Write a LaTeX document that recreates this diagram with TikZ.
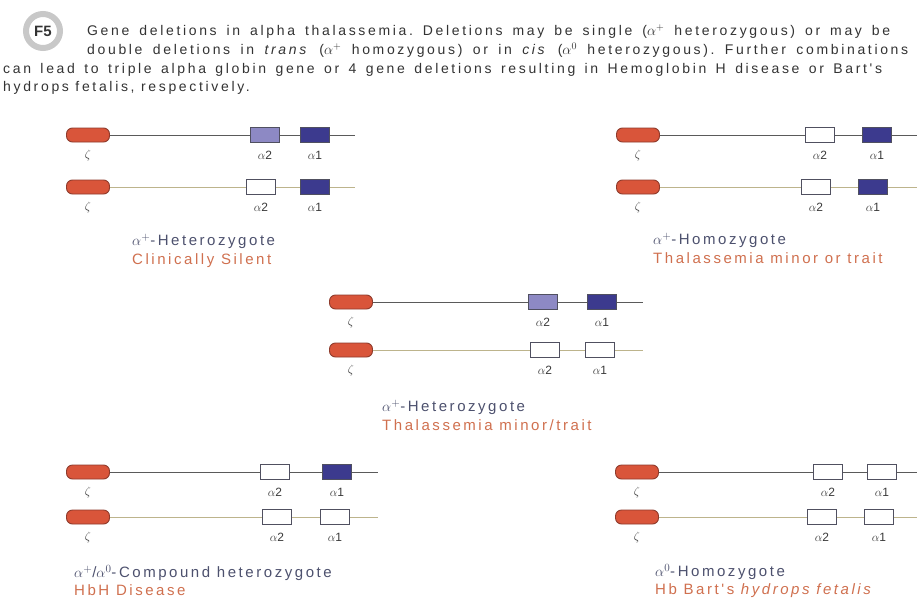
\documentclass[tikz,border=0pt]{standalone}
\usepackage{fontspec}
\setmainfont{Liberation Sans}
\newfontfamily\headfont{Liberation Sans}[LetterSpace=19]
\newfontfamily\capfont{Liberation Sans}[LetterSpace=17]
\usetikzlibrary{positioning}
\definecolor{zetared}{HTML}{D9553A}
\definecolor{zetaedge}{HTML}{8E3B2C}
\definecolor{darkalpha}{HTML}{3C3A8E}
\definecolor{lightalpha}{HTML}{8D89C4}
\definecolor{boxedge}{HTML}{505060}
\definecolor{upgray}{HTML}{5A5A5A}
\definecolor{lowkhaki}{HTML}{BDB48C}
\definecolor{labgray}{HTML}{3A3A3A}
\definecolor{capslate}{HTML}{4D516E}
\definecolor{capsalmon}{HTML}{D0704F}
\definecolor{ringgray}{HTML}{C8C8C8}
\definecolor{headgray}{HTML}{333333}
\tikzset{
x=1pt, y=-1pt, % pixel units, y runs downwards
label distance=7pt,
zetagene/.style={draw=zetaedge, fill=zetared, rounded corners=6pt, line width=0.9pt,
  minimum width=43pt, minimum height=14pt, inner sep=0pt}, % zeta globin gene
geneoff/.style={draw=boxedge, fill=white, line width=0.8pt,
  minimum width=29pt, minimum height=15pt, inner sep=0pt}, % deleted alpha gene
genefull/.style={geneoff, fill=darkalpha}, % intact alpha gene
genehalf/.style={geneoff, fill=lightalpha}, % alpha2 gene, lighter shade
genelab/.style={font=\fontsize{12}{14}\selectfont, text=labgray, inner sep=1pt},
upperline/.style={draw=upgray, line width=0.9pt},
lowerline/.style={draw=lowkhaki, line width=0.9pt},
captop/.style={font=\capfont\fontsize{15}{17}\selectfont, text=capslate, inner sep=0pt, anchor=west},
capsub/.style={font=\capfont\fontsize{15}{17}\selectfont, text=capsalmon, inner sep=0pt},
headline/.style={font=\headfont\fontsize{14}{16}\selectfont\frenchspacing, text=headgray, inner sep=0pt, anchor=base west},
}

\begin{document}
\begin{tikzpicture}
\useasboundingbox (0,0) rectangle (917,602);
\fill[white] (0,0) rectangle (917,602);

% header
\node[circle, draw=ringgray, line width=6pt, minimum size=34pt, inner sep=0pt,
  font=\bfseries\fontsize{15}{17}\selectfont, text=headgray] (f5) at (43,31) {F5};
\node[headline] (h1) at (87,36) {\makebox[803pt][s]{Gene deletions in alpha thalassemia. Deletions may be single ($\alpha^{+}$ heterozygous) or may be}};
\node[headline] (h2) at (87,54.5) {\makebox[821pt][s]{double deletions in \textit{trans} ($\alpha^{+}$ homozygous) or in \textit{cis} ($\alpha^{0}$ heterozygous). Further combinations}};
\node[headline] (h3) at (3,73) {\makebox[879pt][s]{can lead to triple alpha globin gene or 4 gene deletions resulting in Hemoglobin H disease or Bart's}};
\node[headline] (h4) at (3,91.5) {hydrops fetalis, respectively.};

% alpha+ heterozygote
\node[zetagene, label={[genelab]below:$\zeta$}] (z1a) at (88,135) {};
\node[genehalf, label={[genelab]below:$\alpha$2}] (a2p1a) at (265,135) {};
\node[genefull, label={[genelab]below:$\alpha$1}] (a1p1a) at (315,135) {};
\coordinate (e1a) at (355,135);
\draw[upperline] (z1a) -- (a2p1a) -- (a1p1a) -- (e1a);
\node[zetagene, label={[genelab]below:$\zeta$}] (z1b) at (88,187) {};
\node[geneoff, label={[genelab]below:$\alpha$2}] (a2p1b) at (261,187) {};
\node[genefull, label={[genelab]below:$\alpha$1}] (a1p1b) at (315,187) {};
\coordinate (e1b) at (355,187);
\draw[lowerline] (z1b) -- (a2p1b) -- (a1p1b) -- (e1b);
\node[captop] (t1) at (132,241) {$\alpha^{+}$-Heterozygote};
\node[capsub, below=5pt of t1.south west, anchor=north west] (s1) {Clinically Silent};

% alpha+ homozygote
\node[zetagene, label={[genelab]below:$\zeta$}] (z2a) at (638,135) {};
\node[geneoff, label={[genelab]below:$\alpha$2}] (a2p2a) at (820,135) {};
\node[genefull, label={[genelab]below:$\alpha$1}] (a1p2a) at (877,135) {};
\coordinate (e2a) at (917,135);
\draw[upperline] (z2a) -- (a2p2a) -- (a1p2a) -- (e2a);
\node[zetagene, label={[genelab]below:$\zeta$}] (z2b) at (638,187) {};
\node[geneoff, label={[genelab]below:$\alpha$2}] (a2p2b) at (816,187) {};
\node[genefull, label={[genelab]below:$\alpha$1}] (a1p2b) at (873,187) {};
\coordinate (e2b) at (917,187);
\draw[lowerline] (z2b) -- (a2p2b) -- (a1p2b) -- (e2b);
\node[captop] (t2) at (653,240) {$\alpha^{+}$-Homozygote};
\node[capsub, below=5pt of t2.south west, anchor=north west] (s2) {Thalassemia minor or trait};

% alpha0 heterozygote
\node[zetagene, label={[genelab]below:$\zeta$}] (z3a) at (351,302) {};
\node[genehalf, label={[genelab]below:$\alpha$2}] (a2p3a) at (543,302) {};
\node[genefull, label={[genelab]below:$\alpha$1}] (a1p3a) at (602,302) {};
\coordinate (e3a) at (643,302);
\draw[upperline] (z3a) -- (a2p3a) -- (a1p3a) -- (e3a);
\node[zetagene, label={[genelab]below:$\zeta$}] (z3b) at (351,350) {};
\node[geneoff, label={[genelab]below:$\alpha$2}] (a2p3b) at (545,350) {};
\node[geneoff, label={[genelab]below:$\alpha$1}] (a1p3b) at (600,350) {};
\coordinate (e3b) at (643,350);
\draw[lowerline] (z3b) -- (a2p3b) -- (a1p3b) -- (e3b);
\node[captop] (t3) at (382,407) {$\alpha^{+}$-Heterozygote};
\node[capsub, below=5pt of t3.south west, anchor=north west] (s3) {Thalassemia minor/trait};

% compound heterozygote
\node[zetagene, label={[genelab]below:$\zeta$}] (z4a) at (88,472) {};
\node[geneoff, label={[genelab]below:$\alpha$2}] (a2p4a) at (275,472) {};
\node[genefull, label={[genelab]below:$\alpha$1}] (a1p4a) at (337,472) {};
\coordinate (e4a) at (378,472);
\draw[upperline] (z4a) -- (a2p4a) -- (a1p4a) -- (e4a);
\node[zetagene, label={[genelab]below:$\zeta$}] (z4b) at (88,517) {};
\node[geneoff, label={[genelab]below:$\alpha$2}] (a2p4b) at (277,517) {};
\node[geneoff, label={[genelab]below:$\alpha$1}] (a1p4b) at (335,517) {};
\coordinate (e4b) at (378,517);
\draw[lowerline] (z4b) -- (a2p4b) -- (a1p4b) -- (e4b);
\node[captop] (t4) at (74,573) {$\alpha^{+}$/$\alpha^{0}$-Compound heterozygote};
\node[capsub, below=4pt of t4.south west, anchor=north west] (s4) {HbH Disease};

% alpha0 homozygote
\node[zetagene, label={[genelab]below:$\zeta$}] (z5a) at (637,472) {};
\node[geneoff, label={[genelab]below:$\alpha$2}] (a2p5a) at (828,472) {};
\node[geneoff, label={[genelab]below:$\alpha$1}] (a1p5a) at (882,472) {};
\coordinate (e5a) at (917,472);
\draw[upperline] (z5a) -- (a2p5a) -- (a1p5a) -- (e5a);
\node[zetagene, label={[genelab]below:$\zeta$}] (z5b) at (637,517) {};
\node[geneoff, label={[genelab]below:$\alpha$2}] (a2p5b) at (822,517) {};
\node[geneoff, label={[genelab]below:$\alpha$1}] (a1p5b) at (879,517) {};
\coordinate (e5b) at (917,517);
\draw[lowerline] (z5b) -- (a2p5b) -- (a1p5b) -- (e5b);
\node[captop] (t5) at (655,572) {$\alpha^{0}$-Homozygote};
\node[capsub, below=4pt of t5.south west, anchor=north west] (s5) {Hb Bart's \textit{hydrops fetalis}};
\end{tikzpicture}
\end{document}
